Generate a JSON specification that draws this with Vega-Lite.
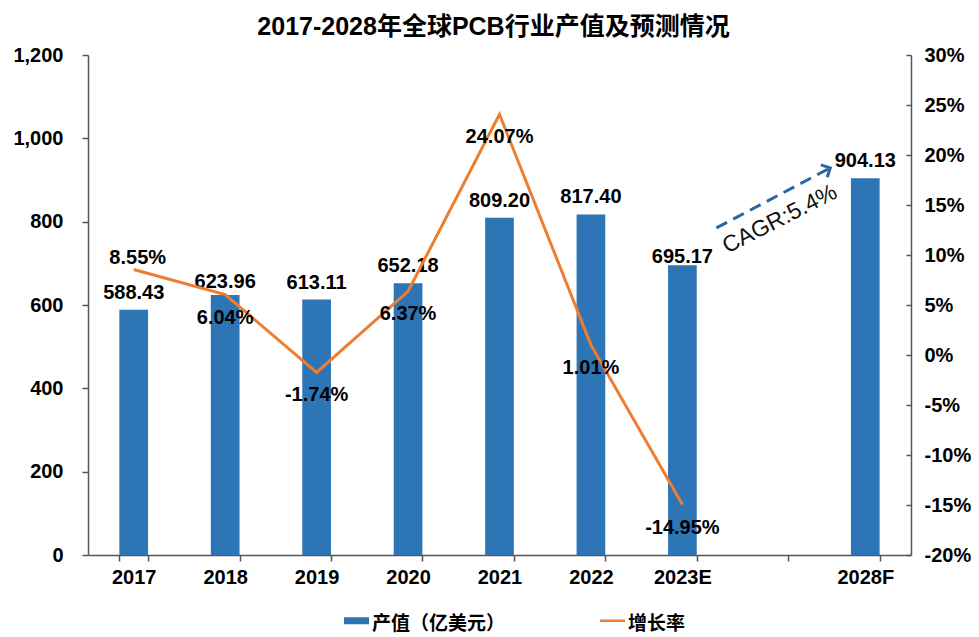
{
  "$schema": "https://vega.github.io/schema/vega-lite/v6.json",
  "width": 823,
  "height": 500,
  "autosize": "none",
  "padding": {"left": 88, "top": 55, "right": 68, "bottom": 82},
  "background": "white",
  "title": {
    "text": "2017-2028年全球PCB行业产值及预测情况",
    "font": "Liberation Sans, Noto Sans CJK SC",
    "fontSize": 25,
    "fontWeight": "bold",
    "color": "#000000",
    "anchor": "middle",
    "frame": "group",
    "offset": 5,
    "dx": -6
  },
  "config": {
    "locale": {"number": {"decimal": ".", "thousands": ",", "grouping": [3], "currency": ["$", ""], "minus": "-"}},
    "view": {"stroke": null},
    "font": "Liberation Sans, Noto Sans CJK SC",
    "axis": {"grid": false}
  },
  "datasets": {
    "main": [
      {"year": "2017", "value": 588.43, "growth": 0.0855},
      {"year": "2018", "value": 623.96, "growth": 0.0604},
      {"year": "2019", "value": 613.11, "growth": -0.0174},
      {"year": "2020", "value": 652.18, "growth": 0.0637},
      {"year": "2021", "value": 809.20, "growth": 0.2407},
      {"year": "2022", "value": 817.40, "growth": 0.0101},
      {"year": "2023E", "value": 695.17, "growth": -0.1495},
      {"year": "2028F", "value": 904.13, "growth": null}
    ],
    "arrow": [{"year": "2023E", "year2": "2028F", "value": 785, "value2": 929}],
    "arrowtip": [{"year": "2028F", "value": 929}],
    "note": [{"year": " ", "value": 806, "label": "CAGR:5.4%"}]
  },
  "layer": [
    {
      "layer": [
        {
          "data": {"name": "main"},
          "mark": {"type": "bar"},
          "encoding": {
            "x": {
              "field": "year", "type": "nominal", "title": null, "sort": null,
              "scale": {"domain": ["2017", "2018", "2019", "2020", "2021", "2022", "2023E", " ", "2028F"], "paddingInner": 0.686, "paddingOuter": 0.343},
              "axis": {"labelFontSize": 20, "labelFontWeight": "bold", "labelColor": "#000000", "labelAngle": 0, "tickSize": 6, "tickBand": "extent", "domainColor": "#555555", "tickColor": "#555555", "domainWidth": 1.5, "tickWidth": 1.5, "labelPadding": 6}
            },
            "y": {
              "field": "value", "type": "quantitative", "title": null,
              "scale": {"domain": [0, 1200], "nice": false, "zero": true},
              "axis": {"values": [0, 200, 400, 600, 800, 1000, 1200], "format": ",.0f", "labelFontSize": 20, "labelFontWeight": "bold", "labelColor": "#000000", "tickSize": 6, "labelPadding": 19, "domainColor": "#555555", "tickColor": "#555555", "domainWidth": 1.5, "tickWidth": 1.5}
            },
            "color": {
              "datum": "产值（亿美元）",
              "scale": {"domain": ["产值（亿美元）", "增长率"], "range": ["#2E75B6", "#ED7D31"]},
              "legend": {
                "orient": "none", "legendX": 256, "legendY": 553, "direction": "horizontal", "title": null,
                "symbolType": "M-1,-0.28H1V0.28H-1Z", "symbolSize": 625, "labelFontSize": 19, "labelFontWeight": "bold",
                "labelFont": "Noto Sans CJK SC", "labelColor": "#000000", "labelOffset": 3, "columnPadding": 94, "padding": 0,
                "encode": {
                  "symbols": {"update": {
                    "shape": {"signal": "datum.value === '增长率' ? 'M-1,-0.1H1V0.1H-1Z' : 'M-1,-0.28H1V0.28H-1Z'"},
                    "fill": {"signal": "datum.value === '增长率' ? '#ED7D31' : '#2E75B6'"},
                    "strokeWidth": {"value": 0},
                    "opacity": {"value": 1}
                  }},
                  "labels": {"update": {"dy": {"value": 3}}}
                }
              }
            }
          }
        },
        {
          "data": {"name": "main"},
          "mark": {"type": "text", "fontSize": 20, "fontWeight": "bold", "color": "#000000", "baseline": "middle",
                   "dy": {"expr": "datum.year === '2023E' ? -8 : (datum.year === '2018' ? -13 : -17)"}},
          "encoding": {
            "x": {"field": "year", "type": "nominal", "sort": null, "title": null},
            "y": {"field": "value", "type": "quantitative", "title": null},
            "text": {"field": "value", "type": "quantitative", "format": ".2f"}
          }
        },
        {
          "data": {"name": "arrow"},
          "mark": {"type": "rule", "xOffset": 34, "x2Offset": -35, "strokeDash": [12, 7], "strokeWidth": 3, "color": "#2E64A0"},
          "encoding": {
            "x": {"field": "year", "type": "nominal", "sort": null, "title": null},
            "x2": {"field": "year2"},
            "y": {"field": "value", "type": "quantitative", "title": null},
            "y2": {"field": "value2"}
          }
        },
        {
          "data": {"name": "arrowtip"},
          "mark": {"type": "point", "shape": "M-1,-1L0,0L-1,1", "filled": false, "strokeWidth": 3, "size": 196, "angle": -27, "xOffset": -35, "color": "#2E64A0", "opacity": 1},
          "encoding": {
            "x": {"field": "year", "type": "nominal", "sort": null, "title": null},
            "y": {"field": "value", "type": "quantitative", "title": null}
          }
        },
        {
          "data": {"name": "note"},
          "mark": {"type": "text", "fontSize": 23, "angle": -27, "xOffset": 6, "color": "#111111", "baseline": "middle"},
          "encoding": {
            "x": {"field": "year", "type": "nominal", "sort": null, "title": null},
            "y": {"field": "value", "type": "quantitative", "title": null},
            "text": {"field": "label"}
          }
        }
      ]
    },
    {
      "data": {"name": "main"},
      "transform": [{"filter": "isValid(datum.growth)"}],
      "layer": [
        {
          "mark": {"type": "line", "strokeWidth": 3},
          "encoding": {
            "x": {"field": "year", "type": "nominal", "sort": null, "title": null},
            "y": {
              "field": "growth", "type": "quantitative", "title": null,
              "scale": {"domain": [-0.2, 0.3], "nice": false, "zero": false},
              "axis": {"orient": "right", "values": [-0.2, -0.15, -0.1, -0.05, 0, 0.05, 0.1, 0.15, 0.2, 0.25, 0.3], "format": ".0%", "labelFontSize": 20, "labelFontWeight": "bold", "labelColor": "#000000", "tickSize": -5, "labelPadding": 18, "domainColor": "#555555", "tickColor": "#555555", "domainWidth": 1.5, "tickWidth": 1.5}
            },
            "color": {
              "datum": "增长率",
              "scale": {"domain": ["产值（亿美元）", "增长率"], "range": ["#2E75B6", "#ED7D31"]}
            }
          }
        },
        {
          "mark": {"type": "text", "fontSize": 20, "fontWeight": "bold", "color": "#000000", "baseline": "middle",
                   "dy": {"expr": "datum.year === '2017' ? -12 : 23"},
                   "dx": {"expr": "datum.year === '2017' ? 4 : 0"}},
          "encoding": {
            "x": {"field": "year", "type": "nominal", "sort": null, "title": null},
            "y": {"field": "growth", "type": "quantitative", "title": null},
            "text": {"field": "growth", "type": "quantitative", "format": ".2%"}
          }
        }
      ]
    }
  ],
  "resolve": {"scale": {"y": "independent"}}
}
